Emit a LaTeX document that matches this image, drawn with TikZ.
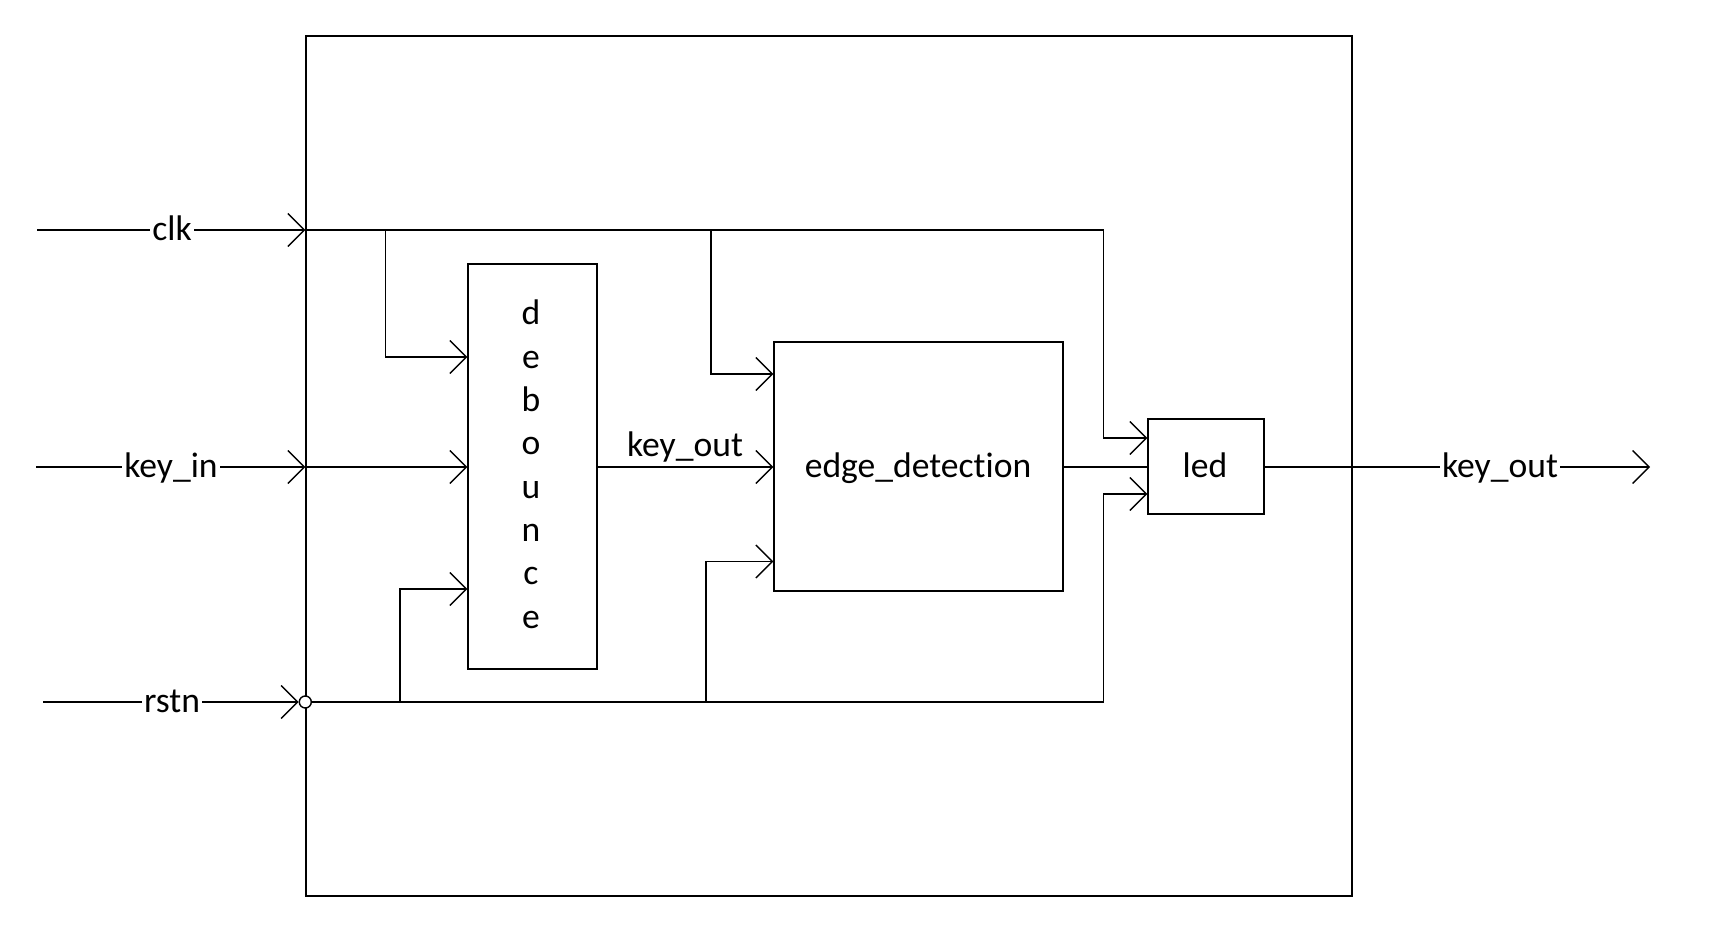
\documentclass[tikz,border=0pt]{standalone}
\usepackage{fontspec}
\setmainfont{Carlito}[Ligatures={NoCommon,NoRare,NoContextual}]
\usetikzlibrary{arrows.meta,fit,calc}
\begin{document}
\begin{tikzpicture}[x=0.5pt,y=-0.5pt,
  line width=0.7pt,
  blk/.style={draw, inner sep=0pt, line width=0.7pt},
  arr/.style={-{Straight Barb[length=8.25pt,width=16.5pt,line width=0.7pt]}},
  lab/.style={anchor=base, fill=white, inner xsep=1pt, inner ysep=1pt, font=\fontsize{17.8}{20}\selectfont},
  txt/.style={anchor=base, inner sep=0pt, font=\fontsize{17.8}{20}\selectfont}]
\useasboundingbox (0,0) rectangle (1720,940);
% blocks
\node[blk, fit={(306,36)(1352,896)}] (top) {};
\node[blk, fit={(468,264)(597,669)}] (deb) {};
\node[blk, fit={(774,342)(1063,591)}] (edge) {};
\node[blk, fit={(1148,419)(1264,514)}] (led) {};
% free ends and bends
\coordinate (clkin) at (37,230);
\coordinate (keyin) at (36,467);
\coordinate (rstin) at (43,702);
\coordinate (out) at (1650,467);
\coordinate (cA) at (385.7,230);
\coordinate (cB) at (711,230);
\coordinate (cC) at (1103.6,230);
\coordinate (rA) at (400,702);
\coordinate (rB) at (706,702);
\coordinate (rC) at (1103.6,702);
% inputs
\draw[arr] (clkin) -- (top.west |- clkin);
\draw[arr] (keyin) -- (top.west |- keyin);
% clk net
\draw (top.west |- clkin) -- (cC);
\draw[arr] (cA) |- (deb.west |- 0,357);
\draw[arr] (cB) |- (edge.west |- 0,374);
\draw[arr] (cC) |- (led.west |- 0,438);
% key path
\draw[arr] (top.west |- keyin) -- (deb.west |- keyin);
\draw[arr] (deb.east |- keyin) -- (edge.west |- keyin);
\draw (edge.east |- keyin) -- (led.west |- keyin);
\draw[arr] (led.east |- keyin) -- (out);
% rstn net
\node[circle, draw, fill=white, inner sep=0pt, minimum size=6pt] (inv) at (top.west |- rstin) {};
\draw[arr] (rstin) -- (inv.west);
\draw (inv.east) -- (rC);
\draw[arr] (rA) |- (deb.west |- 0,589);
\draw[arr] (rB) |- (edge.west |- 0,561.5);
\draw[arr] (rC) |- (led.west |- 0,494);
% labels
\node[lab] (lclk) at (172,241) {clk};
\node[lab] (lkeyin) at (171,478) {key\_in};
\node[lab] (lrst) at (172,713) {rstn};
\node[lab] (lkout) at (1500,478) {key\_out};
\node[txt] (lkmid) at (685,457) {key\_out};
\node[txt] (tedge) at (918,478) {edge\_detection};
\node[txt] (tled) at (1205,478) {led};
\foreach \l [count=\i from 0] in {d,e,b,o,u,n,c,e}
  \node[txt] (deb\i) at (531,{325+43.33*\i}) {\l};
\end{tikzpicture}
\end{document}
